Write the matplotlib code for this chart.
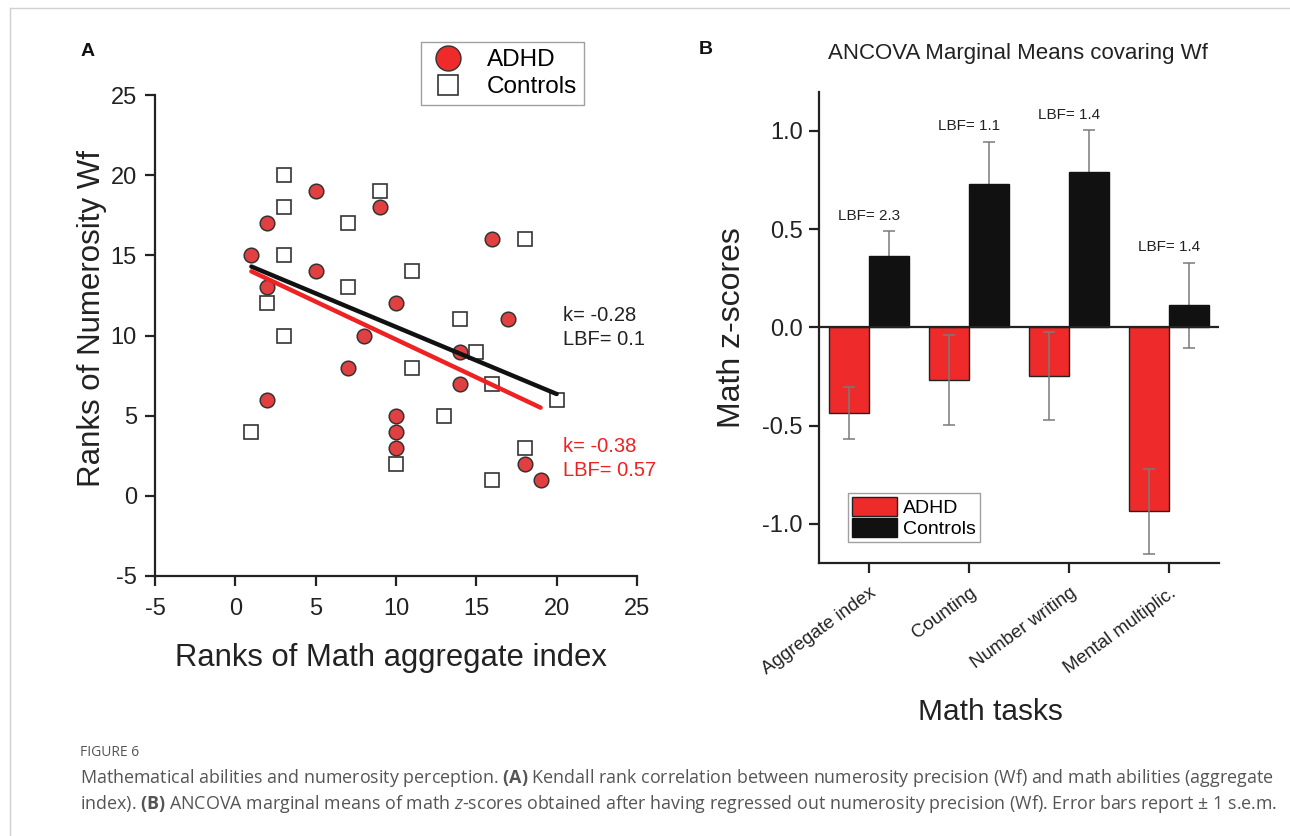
import matplotlib
matplotlib.use('Agg')
import matplotlib.pyplot as plt
from matplotlib.lines import Line2D
from matplotlib.patches import Patch
import numpy as np

plt.rcParams['font.family'] = ['Liberation Sans', 'DejaVu Sans']
plt.rcParams['axes.unicode_minus'] = False
plt.rcParams['mathtext.fontset'] = 'custom'
plt.rcParams['mathtext.rm'] = 'Open Sans'
plt.rcParams['mathtext.bf'] = 'Open Sans:bold'
plt.rcParams['mathtext.it'] = 'Open Sans:italic'

# ---------------- Panel A data ----------------
adhd_x = [1, 2, 2, 2, 5, 5, 7, 8, 9, 10, 10, 10, 10, 14, 14, 16, 17, 18, 19]
adhd_y = [15, 17, 13, 6, 19, 14, 8, 10, 18, 12, 5, 4, 3, 9, 7, 16, 11, 2, 1]
ctrl_x = [1, 2, 3, 3, 3, 3, 7, 7, 9, 10, 11, 11, 13, 14, 15, 16, 16, 18, 18, 20]
ctrl_y = [4, 12, 20, 18, 15, 10, 17, 13, 19, 2, 14, 8, 5, 11, 9, 7, 1, 16, 3, 6]
fit_adhd_x = [1, 19]
fit_adhd_y = [14.0, 5.5]
fit_ctrl_x = [1, 20]
fit_ctrl_y = [14.3, 6.35]
ticks_A = [-5, 0, 5, 10, 15, 20, 25]

# ---------------- Panel B data ----------------
tasks = ['Aggregate index', 'Counting', 'Number writing', 'Mental multiplic.']
adhd_mean = [-0.435, -0.267, -0.246, -0.936]
adhd_sem = [0.131, 0.231, 0.224, 0.216]
ctrl_mean = [0.365, 0.730, 0.793, 0.114]
ctrl_sem = [0.124, 0.216, 0.211, 0.216]
lbf_labels = ['LBF= 2.3', 'LBF= 1.1', 'LBF= 1.4', 'LBF= 1.4']
ticks_B = [-1.0, -0.5, 0.0, 0.5, 1.0]

RED_MARK = '#E23F41'
RED = '#EE2A2A'
W, H = 1290, 836

fig = plt.figure(figsize=(W / 100, H / 100), dpi=100)

def fx(px):
    return px / W

def fy(py):
    return 1 - py / H

# ================= Panel A =================
axA = fig.add_axes([fx(155), fy(576), (637 - 155) / W, (576 - 95) / H])
axA.set_xlim(-5, 25)
axA.set_ylim(-5, 25)
for s in ['top', 'right']:
    axA.spines[s].set_visible(False)
for s in ['left', 'bottom']:
    axA.spines[s].set_linewidth(1.6)
    axA.spines[s].set_color('#222222')
axA.set_xticks(ticks_A)
axA.set_yticks(ticks_A)
axA.tick_params(direction='out', length=7, width=1.6, labelsize=17, colors='#222222')
axA.tick_params(axis='y', pad=6)
axA.tick_params(axis='x', pad=9)

axA.plot(adhd_x, adhd_y, 'o', ms=10.5, mfc=RED_MARK, mec='#333333', mew=1.1, zorder=3, clip_on=False)
axA.plot(ctrl_x, ctrl_y, 's', ms=10, mfc='white', mec='#333333', mew=1.2, zorder=3, clip_on=False)
axA.plot(fit_ctrl_x, fit_ctrl_y, '-', color='#111111', lw=3.2, zorder=4, solid_capstyle='round')
axA.plot(fit_adhd_x, fit_adhd_y, '-', color='#EE2222', lw=3.2, zorder=4, solid_capstyle='round')

axA.text(20.4, 11.25, 'k= -0.28', fontsize=14.5, color='#222222', va='center')
axA.text(20.4, 9.75, 'LBF= 0.1', fontsize=14.5, color='#222222', va='center')
axA.text(20.4, 3.05, 'k= -0.38', fontsize=14.5, color='#EE2222', va='center')
axA.text(20.4, 1.6, 'LBF= 0.57', fontsize=14.5, color='#EE2222', va='center')

axA.set_xlabel('Ranks of Math aggregate index', fontsize=22.3, color='#222222')
axA.set_ylabel('Ranks of Numerosity Wf', fontsize=22.5, color='#222222')
axA.xaxis.set_label_coords(0.49, -0.14)
axA.yaxis.set_label_coords(-0.1, 0.535)

legA_handles = [
    Line2D([], [], marker='o', ls='none', ms=18, mfc='#EE2A2A', mec='#333333', mew=1.0),
    Line2D([], [], marker='s', ls='none', ms=15, mfc='white', mec='#333333', mew=1.2),
]
legA = fig.legend(legA_handles, ['ADHD', 'Controls'], loc='upper left',
                  bbox_to_anchor=(fx(421), fy(42)), fontsize=17.5, frameon=True,
                  fancybox=False, edgecolor='#888888', borderaxespad=0,
                  handletextpad=0.8, labelspacing=0.2, borderpad=0.3, handlelength=1.6)
legA.get_frame().set_linewidth(1.0)

fig.text(fx(88), fy(52), 'A', fontsize=14, fontweight='bold', ha='center', va='center', color='#111111')

# ================= Panel B =================
axB = fig.add_axes([fx(819.2), fy(563.3), (1219.4 - 819.2) / W, (563.3 - 91.7) / H])
xpos = np.arange(len(tasks))
axB.set_xlim(-0.5, 3.5)
axB.set_ylim(-1.2, 1.2)
for s in ['top', 'right']:
    axB.spines[s].set_visible(False)
for s in ['left', 'bottom']:
    axB.spines[s].set_linewidth(1.6)
    axB.spines[s].set_color('#222222')

axB.bar(xpos - 0.2, adhd_mean, 0.4, color=RED, edgecolor='#222222', lw=1.0, zorder=2)
axB.bar(xpos + 0.2, ctrl_mean, 0.4, color='#111111', edgecolor='#111111', lw=1.0, zorder=2)
axB.errorbar(xpos - 0.2, adhd_mean, yerr=adhd_sem, fmt='none', ecolor='#7a7a7a',
             elinewidth=1.1, capsize=4, capthick=1.1, zorder=3)
axB.errorbar(xpos + 0.2, ctrl_mean, yerr=ctrl_sem, fmt='none', ecolor='#7a7a7a',
             elinewidth=1.1, capsize=4, capthick=1.1, zorder=1)
axB.axhline(0, color='#222222', lw=1.6, zorder=2.5)

for i in range(len(tasks)):
    top = ctrl_mean[i] + ctrl_sem[i]
    axB.text(xpos[i], top + 0.057, lbf_labels[i], fontsize=11, ha='center', va='baseline', color='#222222')

axB.set_yticks(ticks_B)
axB.set_yticklabels(['%.1f' % v for v in ticks_B])
axB.set_xticks(xpos)
axB.set_xticklabels(tasks, rotation=36, ha='right', rotation_mode='anchor', fontsize=13.5)
axB.tick_params(axis='y', direction='out', length=7, width=1.6, labelsize=17, colors='#222222', pad=5)
axB.tick_params(axis='x', direction='out', length=7, width=1.6, colors='#222222', pad=8)

axB.set_ylabel('Math z-scores', fontsize=23, color='#222222')
axB.yaxis.set_label_coords(-0.18, 0.5)
axB.set_xlabel('Math tasks', fontsize=21.5, color='#222222')
axB.xaxis.set_label_coords(0.427, -0.285)

legB = axB.legend([Patch(facecolor=RED, edgecolor='#222222', lw=1.0),
                   Patch(facecolor='#111111', edgecolor='#111111')],
                  ['ADHD', 'Controls'], loc='upper left',
                  bbox_to_anchor=((848 - 819.2) / 400.2, (563.3 - 493) / 471.6),
                  fontsize=14, frameon=True, fancybox=False, edgecolor='#888888',
                  borderaxespad=0, handlelength=2.3, handleheight=1.15,
                  handletextpad=0.35, labelspacing=0.05, borderpad=0.2)
legB.get_frame().set_linewidth(1.0)

fig.text(fx(1018), fy(54), 'ANCOVA Marginal Means covaring Wf', fontsize=16, ha='center', va='center', color='#222222')
fig.text(fx(706), fy(50), 'B', fontsize=14, fontweight='bold', ha='center', va='center', color='#111111')

# ================= Frame lines & caption =================
fig.add_artist(Line2D([fx(10), 1], [fy(8), fy(8)], color='#d0d0d0', lw=1))
fig.add_artist(Line2D([fx(10), fx(10)], [fy(8), 0], color='#d0d0d0', lw=1))

cap_family = ['Open Sans', 'DejaVu Sans']
fig.text(fx(80), fy(752), 'FIGURE 6', fontsize=10, color='#555555', family=cap_family, va='center')
line1 = (r'Mathematical abilities and numerosity perception. $\mathbf{(A)}$ Kendall rank correlation '
         r'between numerosity precision (Wf) and math abilities (aggregate')
line2 = (r'index). $\mathbf{(B)}$ ANCOVA marginal means of math $z$-scores obtained after having '
         r'regressed out numerosity precision (Wf). Error bars report $\pm$ 1 s.e.m.')
t1 = fig.text(fx(80), fy(778), line1, fontsize=12, color='#555555', family=cap_family, va='center')
t2 = fig.text(fx(80), fy(804), line2, fontsize=12, color='#555555', family=cap_family, va='center')
r = fig.canvas.get_renderer()
w1 = t1.get_window_extent(r).width
scale = (1272 - 80) / w1
t1.set_fontsize(12 * scale)
t2.set_fontsize(12 * scale)

fig.savefig('out.png', dpi=100)
